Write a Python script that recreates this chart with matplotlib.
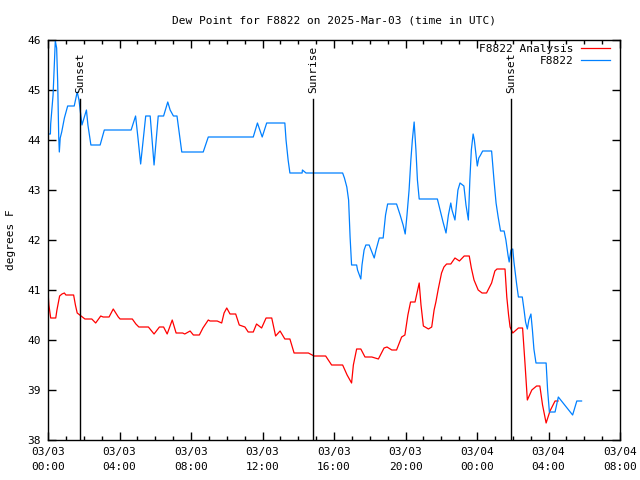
import matplotlib
matplotlib.use("Agg")
import matplotlib.pyplot as plt
import numpy as np

# ---- data (minutes since 03/03 00:00 UTC, dew point in degrees F) ----
obs_min = [0, 8, 9, 17, 24.5, 29, 32.5, 36, 38, 41, 46, 55, 66, 88, 98, 104, 110, 114, 121, 129,
           134, 144, 175, 189, 279, 294, 302, 311, 316, 328, 343, 356, 370, 388, 402, 410, 421, 433,
           449, 521, 538, 689, 703, 719, 734, 795, 799, 806, 812, 853, 854, 866, 989, 995, 1003,
           1009, 1014, 1019, 1036, 1039, 1050, 1054, 1061, 1067, 1078, 1095, 1101, 1112, 1125,
           1133, 1140, 1170, 1182, 1192, 1199, 1205, 1212, 1218, 1223, 1229, 1235, 1240, 1246,
           1307, 1316, 1326, 1336, 1344, 1352, 1356, 1366, 1371, 1376, 1383, 1396, 1403, 1411,
           1416, 1421, 1427, 1431, 1441, 1446, 1452, 1459, 1489, 1497, 1504, 1511, 1519, 1531,
           1537, 1544, 1548, 1554, 1560, 1564, 1573, 1579, 1592, 1598, 1603, 1609, 1614, 1621,
           1626, 1631, 1638, 1672, 1677, 1683, 1702, 1713, 1761, 1775, 1791]
obs_val = [44.12, 44.12, 44.32, 44.9, 45.98, 45.84, 45.16, 44.06, 43.76, 44.04, 44.16, 44.44,
           44.68, 44.68, 44.96, 44.8, 44.5, 44.3, 44.44, 44.6, 44.3, 43.9, 43.9, 44.2, 44.2,
           44.48, 44.04, 43.52, 43.8, 44.48, 44.48, 43.5, 44.48, 44.48, 44.76, 44.6, 44.48,
           44.48, 43.76, 43.76, 44.06, 44.06, 44.34, 44.06, 44.34, 44.34, 44.0, 43.6, 43.34,
           43.34, 43.4, 43.34, 43.34, 43.24, 43.06, 42.8, 42.06, 41.5, 41.5, 41.4, 41.22, 41.5,
           41.8, 41.9, 41.9, 41.64, 41.8, 42.04, 42.04, 42.5, 42.72, 42.72, 42.5, 42.3, 42.12,
           42.5, 43.0, 43.6, 44.0, 44.36, 43.8, 43.2, 42.82, 42.82, 42.6, 42.36, 42.14, 42.5,
           42.74, 42.6, 42.4, 42.7, 43.0, 43.14, 43.08, 42.7, 42.4, 43.2, 43.8, 44.12, 44.0,
           43.48, 43.64, 43.7, 43.78, 43.78, 43.2, 42.74, 42.46, 42.18, 42.18, 42.0, 41.7,
           41.56, 41.8, 41.82, 41.56, 41.12, 40.86, 40.86, 40.6, 40.36, 40.22, 40.4, 40.52,
           40.2, 39.82, 39.54, 39.54, 39.0, 38.56, 38.56, 38.86, 38.5, 38.78, 38.78]

ana_min = [0, 3, 9, 26, 30, 39, 47, 55, 60, 86, 92, 98, 111, 124, 147, 160, 177, 185, 205, 219,
           236, 242, 283, 295, 305, 337, 356, 374, 388, 400, 417, 430, 452, 459, 477, 488, 508,
           520, 538, 544, 568, 583, 591, 600, 611, 630, 642, 661, 672, 689, 700, 717, 732, 751,
           764, 779, 795, 812, 826, 874, 893, 932, 952, 989, 1004, 1019, 1025, 1036, 1050, 1064,
           1087, 1109, 1128, 1138, 1154, 1170, 1187, 1198, 1208, 1217, 1232, 1246, 1252, 1260,
           1277, 1288, 1296, 1302, 1310, 1321, 1329, 1338, 1352, 1366, 1381, 1397, 1414, 1421,
           1430, 1444, 1457, 1472, 1489, 1500, 1507, 1534, 1540, 1546, 1551, 1560, 1579, 1593,
           1601, 1609, 1624, 1640, 1651, 1660, 1672, 1685, 1702, 1712]
ana_val = [40.96, 40.7, 40.44, 40.44, 40.6, 40.88, 40.92, 40.94, 40.9, 40.9, 40.7, 40.54, 40.48,
           40.42, 40.42, 40.34, 40.48, 40.46, 40.46, 40.62, 40.46, 40.42, 40.42, 40.32, 40.26,
           40.26, 40.12, 40.26, 40.26, 40.12, 40.4, 40.14, 40.14, 40.12, 40.18, 40.1, 40.1,
           40.24, 40.4, 40.38, 40.38, 40.34, 40.54, 40.64, 40.52, 40.52, 40.3, 40.26, 40.16,
           40.16, 40.32, 40.24, 40.44, 40.44, 40.08, 40.18, 40.02, 40.02, 39.74, 39.74, 39.68,
           39.68, 39.5, 39.5, 39.3, 39.14, 39.5, 39.82, 39.82, 39.66, 39.66, 39.62, 39.84, 39.86,
           39.8, 39.8, 40.06, 40.1, 40.5, 40.76, 40.76, 41.14, 40.7, 40.28, 40.22, 40.26, 40.6,
           40.76, 41.02, 41.34, 41.46, 41.52, 41.52, 41.64, 41.58, 41.68, 41.68, 41.44, 41.2,
           41.0, 40.94, 40.94, 41.14, 41.38, 41.42, 41.42, 40.86, 40.5, 40.26, 40.14, 40.24,
           40.24, 39.54, 38.8, 39.0, 39.08, 39.08, 38.7, 38.34, 38.58, 38.78, 38.78]

sun_events = ["Sunset", "Sunrise", "Sunset"]
sun_min = [109, 889, 1554]

xtick_hours = [0, 4, 8, 12, 16, 20, 24, 28, 32]
xtick_labels = ["03/03\n00:00", "03/03\n04:00", "03/03\n08:00", "03/03\n12:00",
                "03/03\n16:00", "03/03\n20:00", "03/04\n00:00", "03/04\n04:00",
                "03/04\n08:00"]
ytick_vals = [38, 39, 40, 41, 42, 43, 44, 45, 46]

title = "Dew Point for F8822 on 2025-Mar-03 (time in UTC)"
ylabel = "degrees F"
series_names = ["F8822 Analysis", "F8822"]

# ---- plot ----
plt.rcParams['font.family'] = ['DejaVu Sans Mono']
FS = 8

fig = plt.figure(figsize=(6.4, 4.8), dpi=100)
ax = fig.add_axes([48/640, 1-440/480, (620-48)/640, (440-40)/480])

ax.plot(np.array(ana_min)/60.0, ana_val, color='#ff0000', lw=0.9, label=series_names[0])
ax.plot(np.array(obs_min)/60.0, obs_val, color='#0080ff', lw=0.9, label=series_names[1])

ax.set_xlim(0, 32)
ax.set_ylim(38, 46)

for name, m in zip(sun_events, sun_min):
    h = m/60.0
    ax.plot([h, h], [38, 44.82], color='black', lw=1.0)
    ax.text(h, 44.94, name, rotation=90, ha='center', va='bottom', fontsize=FS)

ax.set_xticks(xtick_hours)
ax.set_xticklabels(xtick_labels, fontsize=FS, linespacing=1.6)
ax.set_xticks(np.arange(0, 33, 1), minor=True)
ax.set_yticks(ytick_vals)
ax.set_yticklabels([str(v) for v in ytick_vals], fontsize=FS)
ax.tick_params(axis='both', which='major', direction='in', length=6, width=1,
               top=True, right=True, pad=5)
ax.tick_params(axis='x', which='minor', direction='in', length=3, width=1, top=True)
ax.tick_params(axis='y', which='minor', left=False, right=False)

for s in ax.spines.values():
    s.set_linewidth(1)

ax.set_title(title, fontsize=FS, pad=12)
ax.set_ylabel(ylabel, fontsize=FS, labelpad=8)

leg = ax.legend(loc='upper right', bbox_to_anchor=(1.0, 1.016), frameon=False,
                markerfirst=False, fontsize=FS, handlelength=2.6, handletextpad=0.7,
                borderpad=0.4, borderaxespad=0.5, labelspacing=0.25)

fig.savefig("out.png", dpi=100)
